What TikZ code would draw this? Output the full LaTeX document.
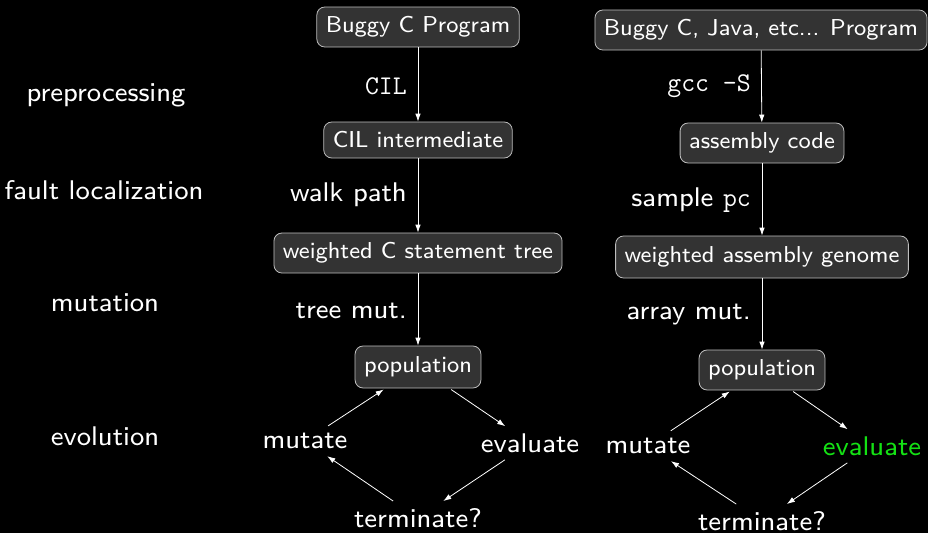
\documentclass[tikz,border=0pt]{standalone}
\usepackage{fontspec}
\setsansfont{lmsans8-regular.otf}
\usetikzlibrary{arrows.meta}
\definecolor{boxfill}{RGB}{51,51,51}
\definecolor{boxline}{RGB}{190,190,190}
\definecolor{evalgreen}{RGB}{20,225,20}
\begin{document}
\begin{tikzpicture}[x=1pt,y=-1pt,
  box/.style={draw=boxline, fill=boxfill, rounded corners=8pt, text=white,
    font=\sffamily\fontsize{23}{27}\selectfont, inner xsep=9pt, inner ysep=0pt,
    minimum height=40pt, line width=0.8pt},
  lbl/.style={text=white, font=\sffamily\fontsize{27}{32}\selectfont, inner sep=2pt},
  side/.style={text=white, font=\sffamily\fontsize{27}{32}\selectfont, inner sep=2pt},
  cyc/.style={text=white, font=\sffamily\fontsize{27}{32}\selectfont, inner sep=6pt},
  arr/.style={draw=white, line width=0.8pt, -{Latex[length=8pt,width=5.5pt]}},
  carr/.style={arr, shorten <=2pt, shorten >=2pt}]
\fill[black] (0,0) rectangle (928,533);
\useasboundingbox (0,0) rectangle (928,533);

% side labels
\node[side] (s1) at (106,95) {preprocessing};
\node[side] (s2) at (104,190) {fault localization};
\node[side] (s3) at (105,303) {mutation};
\node[side] (s4) at (105,436) {evolution};

% left column
\node[box] (a1) at (418,27) {Buggy C Program};
\node[box, minimum height=36pt] (a2) at (418,140) {CIL intermediate};
\node[box] (a3) at (418,253) {weighted C statement tree};
\node[box, minimum height=42pt] (a4) at (418,367) {population};
\node[cyc] (am) at (305,441) {mutate};
\node[cyc] (ae) at (530,443) {evaluate};
\node[cyc] (at) at (418,518) {terminate?};

\node[lbl, anchor=east] (la1) at (409,86) {\ttfamily CIL};
\node[lbl, anchor=east] (la2) at (409,195) {walk path};
\node[lbl, anchor=east] (la3) at (409,311) {tree mut.};

\draw[arr] (a1) -- (a2);
\draw[arr] (a2) -- (a3);
\draw[arr] (a3) -- (a4);
\draw[carr] (am) -- (a4);
\draw[carr] (a4) -- (ae);
\draw[carr] (ae) -- (at);
\draw[carr] (at) -- (am);

% right column
\node[box] (b1) at (761,30) {Buggy C, Java, etc... Program};
\node[box] (b2) at (762,143) {assembly code};
\node[box, minimum height=42pt] (b3) at (762,257) {weighted assembly genome};
\node[box] (b4) at (762,370) {population};
\node[cyc] (bm) at (648,446) {mutate};
\node[cyc, text=evalgreen] (be) at (872,446) {evaluate};
\node[cyc] (bt) at (762,521) {terminate?};

\node[lbl, anchor=east] (lb1) at (753,86) {\ttfamily gcc -S};
\node[lbl, anchor=east] (lb2) at (753,200) {sample \texttt{pc}};
\node[lbl, anchor=east] (lb3) at (753,315) {array mut.};

\draw[arr] (b1) -- (b2);
\draw[arr] (b2) -- (b3);
\draw[arr] (b3) -- (b4);
\draw[carr] (bm) -- (b4);
\draw[carr] (b4) -- (be);
\draw[carr] (be) -- (bt);
\draw[carr] (bt) -- (bm);
\end{tikzpicture}
\end{document}
